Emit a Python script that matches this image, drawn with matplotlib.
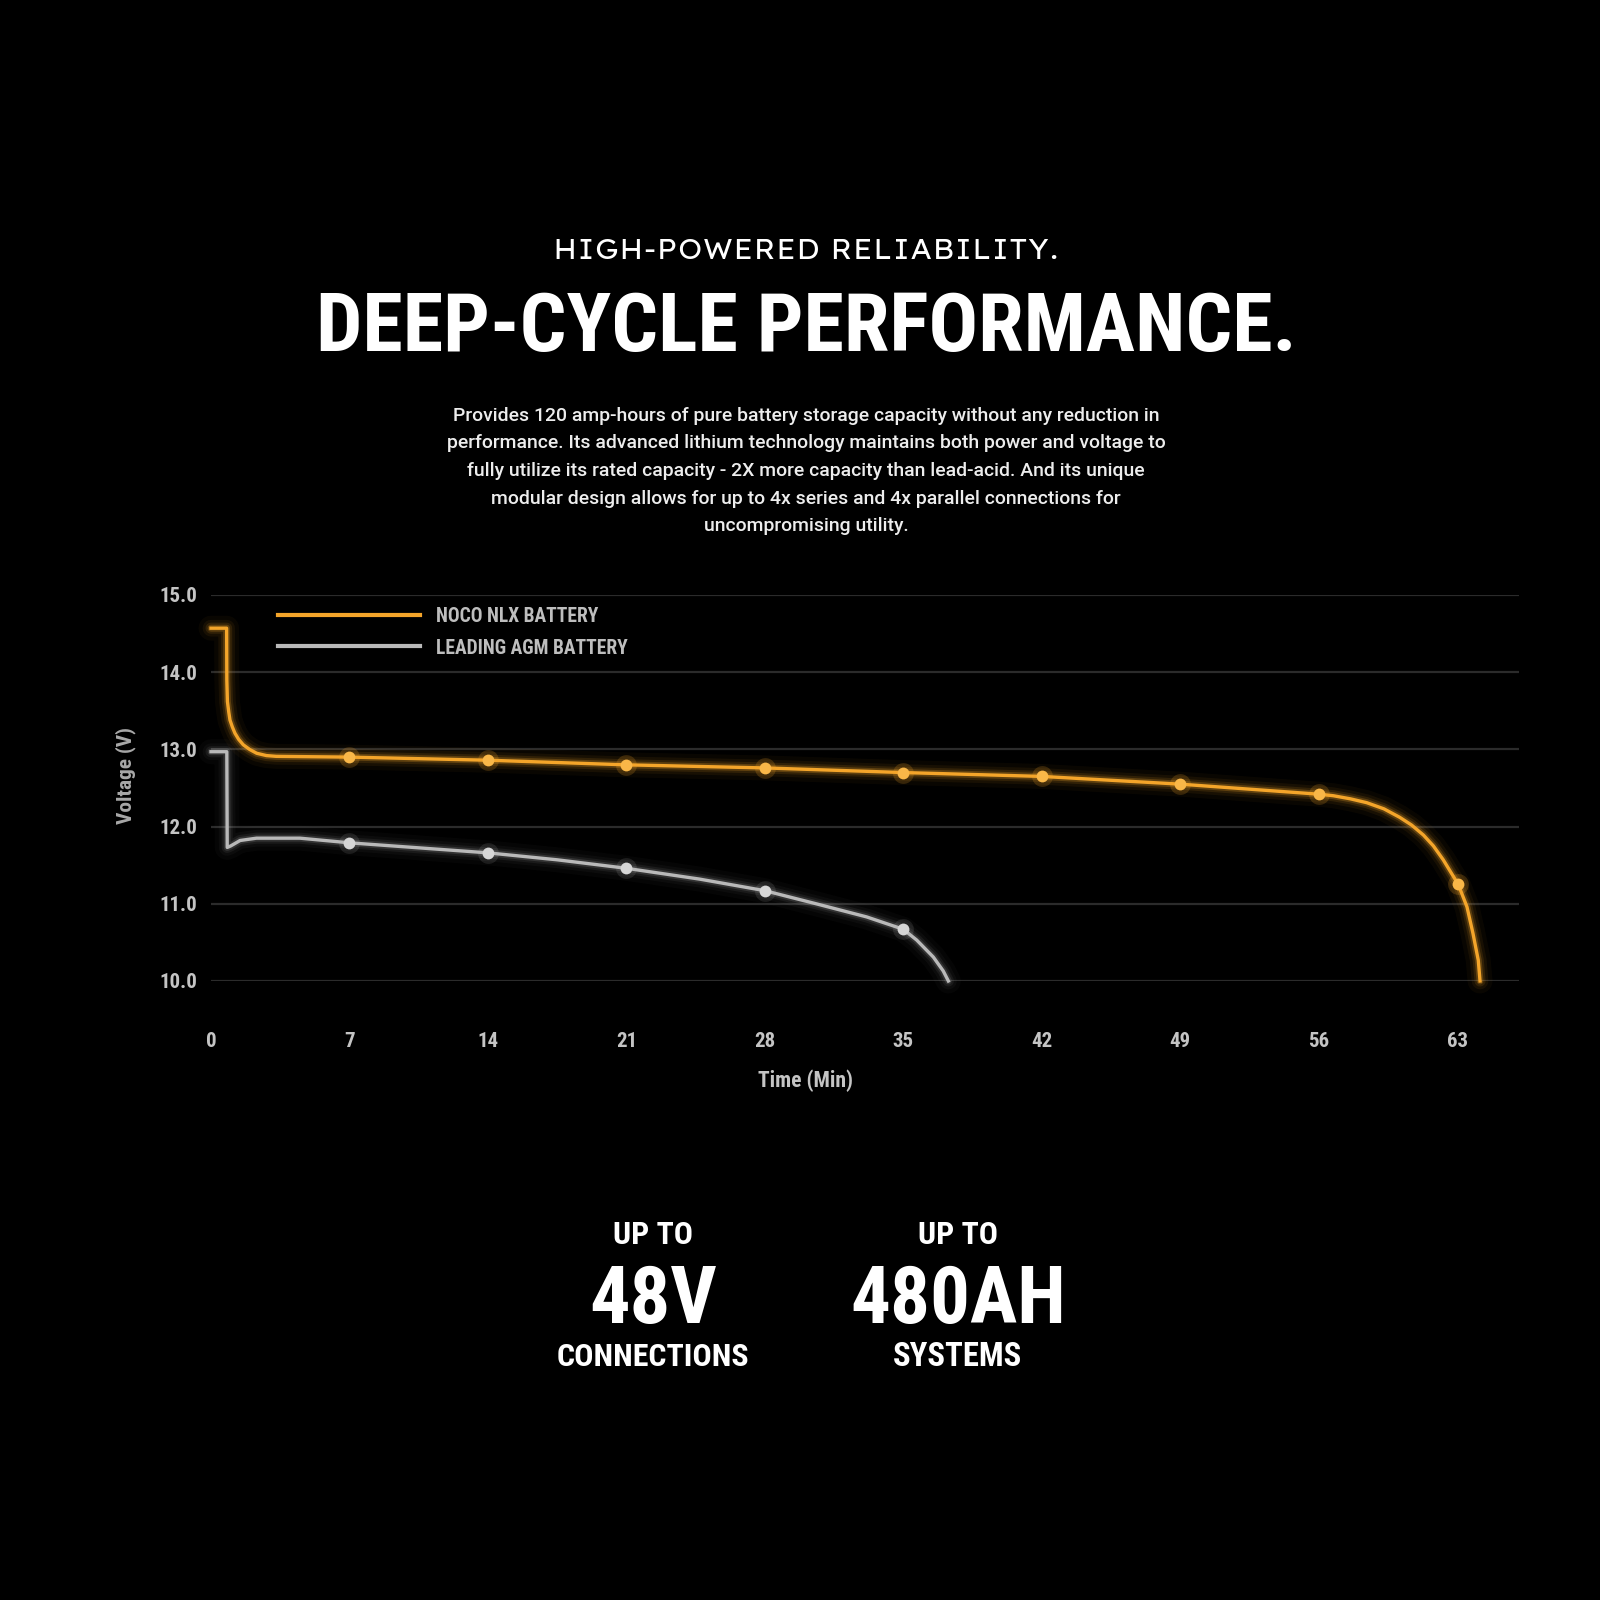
import matplotlib
matplotlib.use('Agg')
import matplotlib.pyplot as plt
from matplotlib.lines import Line2D

# Colours
ORANGE = '#F4A52A'
ORANGE_DOT = '#F9B748'
GREY = '#B9B9B9'
GREY_DOT = '#D6D6D6'
GRID = '#2B2B2B'
LABEL = '#C4C4C4'
COND = ['Roboto Condensed', 'Archivo Narrow', 'DejaVu Sans']
WIDE = ['Lexend Exa', 'Montserrat', 'DejaVu Sans']

# NOCO NLX battery discharge curve (time in min, voltage in V)
nlx_time = [0, 0.79, 0.80, 0.83, 0.9, 0.96, 1.08, 1.21, 1.4, 1.63, 1.95, 2.31, 2.8, 3.3,
            7, 14, 21, 28, 35, 42, 49, 56, 56.74, 57.6, 58.43, 59.3, 60.1, 60.7, 61.3, 61.8, 62.3,
            63.06, 63.5, 63.8, 64.07, 64.16]
nlx_volt = [14.57, 14.57, 13.9, 13.62, 13.48, 13.38, 13.29, 13.21, 13.13, 13.06, 13.0, 12.95, 12.92, 12.91,
            12.90, 12.86, 12.80, 12.76, 12.70, 12.65, 12.55, 12.42, 12.40, 12.36, 12.31, 12.23, 12.12,
            12.02, 11.89, 11.75, 11.57, 11.25, 10.96, 10.62, 10.27, 10.0]

# Leading AGM battery discharge curve
agm_time = [0, 0.8, 0.82, 1.0, 1.47, 2.3, 4.5, 7, 14, 17.5, 21, 24.7, 28,
            30.6, 33.15, 35, 35.68, 36.52, 37.02, 37.28]
agm_volt = [12.97, 12.97, 11.73, 11.75, 11.82, 11.85, 11.85, 11.79, 11.66, 11.57, 11.46, 11.32, 11.17,
            11.00, 10.83, 10.67, 10.53, 10.31, 10.13, 10.0]

# Marker positions (min)
marker_times = [7, 14, 21, 28, 35, 42, 49, 56, 63.06]

x_ticks = [0, 7, 14, 21, 28, 35, 42, 49, 56, 63]
y_ticks = [10, 11, 12, 13, 14, 15]

paragraph = ['Provides 120 amp-hours of pure battery storage capacity without any reduction in',
             'performance. Its advanced lithium technology maintains both power and voltage to',
             'fully utilize its rated capacity - 2X more capacity than lead-acid. And its unique',
             'modular design allows for up to 4x series and 4x parallel connections for',
             'uncompromising utility.']

stats = [('48V', 'CONNECTIONS'), ('480AH', 'SYSTEMS')]


def fx(px):
    return px / 1600


def fy(py):
    return 1 - py / 1600


fig = plt.figure(figsize=(16, 16), dpi=100, facecolor='black')
renderer = fig.canvas.get_renderer()


def fit(txt, target, vertical=False):
    # scale the font so the text spans the width seen in the picture
    bb = txt.get_window_extent(renderer)
    size = bb.height if vertical else bb.width
    txt.set_fontsize(txt.get_fontsize() * target / size)
    return txt.get_fontsize()


# Headings
sub = fig.text(fx(806), fy(259), 'HIGH-POWERED RELIABILITY.', color='white',
               fontsize=18, family=WIDE, weight='medium', ha='center', va='baseline')
fit(sub, 505)
title = fig.text(fx(806), fy(351), 'DEEP-CYCLE PERFORMANCE.', color='white',
                 fontsize=60, family=COND, weight='bold', ha='center', va='baseline')
fit(title, 980)

para = []
for i, line in enumerate(paragraph):
    para.append(fig.text(fx(806), fy(416 + i * 27.5), line, color='#EDEDED', fontsize=12.3,
                         family=['Roboto', 'DejaVu Sans'], weight='medium',
                         ha='center', va='center'))
psize = fit(para[0], 708)
for p in para:
    p.set_fontsize(psize)

# Chart
ax = fig.add_axes([fx(211), fy(981), 1308 / 1600, 386 / 1600])
ax.set_facecolor('black')
ax.set_xlim(0, 66.13)
ax.set_ylim(10, 15)
for s in ax.spines.values():
    s.set_visible(False)
ax.set_yticks(y_ticks)
ax.set_yticklabels(['%.1f' % v for v in y_ticks])
ax.set_xticks(x_ticks)
ax.set_xticklabels([str(t) for t in x_ticks])
ax.tick_params(length=0, colors=LABEL, labelsize=15)
ax.tick_params(axis='y', pad=10)
ax.tick_params(axis='x', pad=37)
for lab in ax.get_xticklabels() + ax.get_yticklabels():
    lab.set_family(COND)
    lab.set_weight('bold')
ax.grid(axis='y', color=GRID, linewidth=1.6)
ax.set_axisbelow(True)


def glow_line(times, volts, colour, dot_colour, strength):
    # soft glow first, then the line itself
    for lw, a in [(18, 0.03), (12, 0.05), (8, 0.09), (5, 0.18)]:
        ax.plot(times, volts, color=colour, lw=lw, alpha=a * strength,
                solid_capstyle='round', solid_joinstyle='round', clip_on=False)
    ax.plot(times, volts, color=colour, lw=2.4, solid_joinstyle='round', clip_on=False)
    mt = [t for t in times if t in marker_times]
    mv = [v for t, v in zip(times, volts) if t in marker_times]
    ax.plot(mt, mv, 'o', color=colour, ms=15, alpha=0.15 * strength, mec='none', clip_on=False)
    ax.plot(mt, mv, 'o', color=dot_colour, ms=8.5, mec='none', clip_on=False)


glow_line(agm_time, agm_volt, GREY, GREY_DOT, 0.9)
glow_line(nlx_time, nlx_volt, ORANGE, ORANGE_DOT, 1.3)

# Legend drawn by hand
fig.add_artist(Line2D([fx(278), fx(420)], [fy(615), fy(615)], color=ORANGE, lw=3,
                      transform=fig.transFigure))
fig.add_artist(Line2D([fx(278), fx(420)], [fy(646), fy(646)], color=GREY, lw=3,
                      transform=fig.transFigure))
leg1 = fig.text(fx(436), fy(617), 'NOCO NLX BATTERY', color='#BEBEBE', fontsize=13.5,
                family=COND, weight='bold', ha='left', va='center')
leg2 = fig.text(fx(436), fy(648), 'LEADING AGM BATTERY', color='#BEBEBE', fontsize=13.5,
                family=COND, weight='bold', ha='left', va='center')
leg2.set_fontsize(fit(leg1, 164))

ylab = fig.text(fx(126), fy(776), 'Voltage (V)', color='#A8A8A8', fontsize=12.5,
                family=COND, weight='bold', rotation=90, ha='center', va='center')
fit(ylab, 97, vertical=True)
xlab = fig.text(fx(806), fy(1081), 'Time (Min)', color=LABEL, fontsize=13.5,
                family=COND, weight='bold', ha='center', va='center')
fit(xlab, 96)

# Stats at the bottom
widths = [(80, 128, 192), (80, 216, 129)]
for (big, small), x, (w_up, w_big, w_small) in zip(stats, [653, 958], widths):
    t = fig.text(fx(x), fy(1244), 'UP TO', color='white', fontsize=26,
                 family=COND, weight='bold', ha='center', va='baseline')
    fit(t, w_up)
    t = fig.text(fx(x), fy(1323), big, color='white', fontsize=60,
                 family=COND, weight='bold', ha='center', va='baseline')
    fit(t, w_big)
    t = fig.text(fx(x), fy(1366), small, color='white', fontsize=26,
                 family=COND, weight='bold', ha='center', va='baseline')
    fit(t, w_small)

plt.savefig('out.png', dpi=100, facecolor='black')
plt.close()
